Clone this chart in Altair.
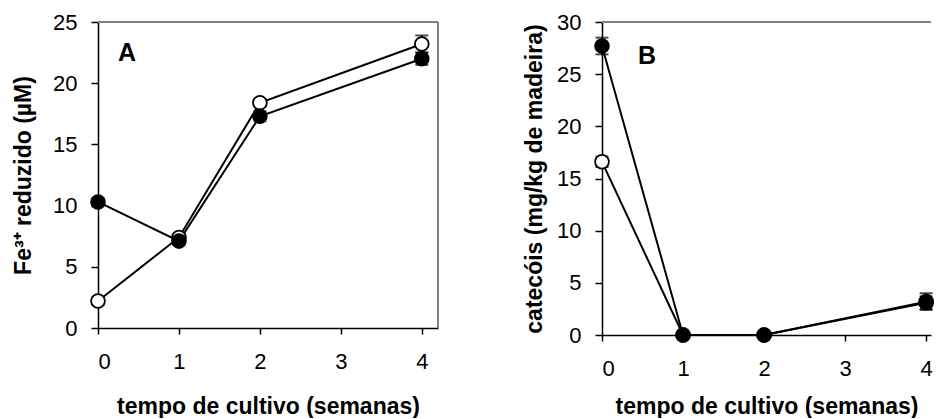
import altair as alt
import pandas as pd

weeks = [0, 1, 2, 4]

# Panel A: Fe3+ reduzido (µM)
a_filled = [10.3, 7.1, 17.3, 22.0]
a_filled_err = [0.3, 0.3, 0.4, 0.5]
a_open = [2.2, 7.4, 18.4, 23.2]
a_open_err = [0.3, 0.3, 0.3, 0.7]

# Panel B: catecóis (mg/kg de madeira)
b_filled = [27.7, 0.0, 0.0, 3.2]
b_filled_err = [0.8, 0.0, 0.0, 0.8]
b_open = [16.6, 0.0, 0.0, 3.1]
b_open_err = [0.5, 0.0, 0.0, 0.6]

x_ticks = [0, 1, 2, 3, 4]
a_y_ticks = [0, 5, 10, 15, 20, 25]
b_y_ticks = [0, 5, 10, 15, 20, 25, 30]

FONT = "Liberation Sans"


def make_df(filled, ferr, opn, oerr):
    rows = []
    for w, v, e in zip(weeks, opn, oerr):
        rows.append({"w": w, "v": v, "lo": v - e, "hi": v + e, "s": "open"})
    for w, v, e in zip(weeks, filled, ferr):
        rows.append({"w": w, "v": v, "lo": v - e, "hi": v + e, "s": "filled"})
    return pd.DataFrame(rows)


def panel(df, xmax, ydom, yticks, ytitle, letter, W, H, lx, ly, xtp, ytp,
          right_border, top_pad):
    xs = alt.Scale(domain=[0, xmax], nice=False, zero=False)
    ys = alt.Scale(domain=ydom, nice=False)
    xax = alt.Axis(values=x_ticks, title="tempo de cultivo (semanas)", grid=False,
                   tickSize=6, labelPadding=17, titlePadding=xtp, format="d")
    yax = alt.Axis(values=yticks, title=ytitle, grid=False, tickSize=7,
                   labelPadding=14, titlePadding=ytp)
    base = alt.Chart(df)
    x = alt.X("w:Q", scale=xs, axis=xax)
    y = alt.Y("v:Q", scale=ys, axis=yax)

    lines = base.mark_line(color="black", strokeWidth=2).encode(
        x=x, y=y, detail="s:N")
    err = base.mark_rule(color="black", strokeWidth=2).encode(
        x="w:Q", y="lo:Q", y2="hi:Q")
    caps_hi = base.mark_tick(color="black", orient="horizontal", size=13,
                             thickness=2).encode(x="w:Q", y="hi:Q")
    caps_lo = base.mark_tick(color="black", orient="horizontal", size=13,
                             thickness=2).encode(x="w:Q", y="lo:Q")
    pts = base.mark_point(filled=True, size=190, strokeWidth=1.8, stroke="black",
                          opacity=1).encode(
        x="w:Q", y="v:Q",
        fill=alt.Fill("s:N", scale=alt.Scale(domain=["open", "filled"],
                                              range=["white", "black"]), legend=None),
        order=alt.Order("s:N", sort="descending"))
    top = alt.Chart(df).mark_rule(color="#808080", strokeWidth=2).encode(
        x=alt.value(0), x2=alt.value(W), y=alt.value(0))
    label = alt.Chart(pd.DataFrame({"t": [letter]})).mark_text(
        fontSize=25, fontWeight="bold", font=FONT, color="black").encode(
        text="t:N", x=alt.value(lx), y=alt.value(ly))
    layers = [top]
    if right_border:
        layers.append(alt.Chart(df).mark_rule(color="#808080", strokeWidth=2).encode(
            x=alt.value(W), y=alt.value(0), y2=alt.value(H)))
    if top_pad:
        # invisible spacer so the two panels sit at slightly different heights
        layers.append(alt.Chart(df).mark_rule(opacity=0).encode(
            x=alt.value(0), y=alt.value(-top_pad), y2=alt.value(0)))
    layers += [lines, err, caps_hi, caps_lo, pts, label]
    return alt.layer(*layers).properties(width=W, height=H)


dfa = make_df(a_filled, a_filled_err, a_open, a_open_err)
dfb = make_df(b_filled, b_filled_err, b_open, b_open_err)

pa = panel(dfa, 4.2, [0, 25], a_y_ticks, "Fe³⁺ reduzido (µM)", "A",
           340, 306, 29, 31, 23, 17, True, 14)
pb = panel(dfb, 4.06, [0, 30], b_y_ticks, "catecóis (mg/kg de madeira)", "B",
           329, 313, 45, 34, 16, 10, False, 0)

chart = alt.hconcat(pa, pb, spacing=84).properties(
    padding={"left": 4, "top": 0, "right": 0, "bottom": 0}
).configure_view(stroke=None).configure_axis(
    labelFont=FONT, titleFont=FONT, labelFontSize=22, titleFontSize=23,
    titleFontWeight="bold", labelColor="black", titleColor="black",
    domainColor="black", tickColor="black", domainWidth=1.5, tickWidth=1.5,
)

chart.save("out.html", embed_options={"renderer": "svg", "actions": False})
